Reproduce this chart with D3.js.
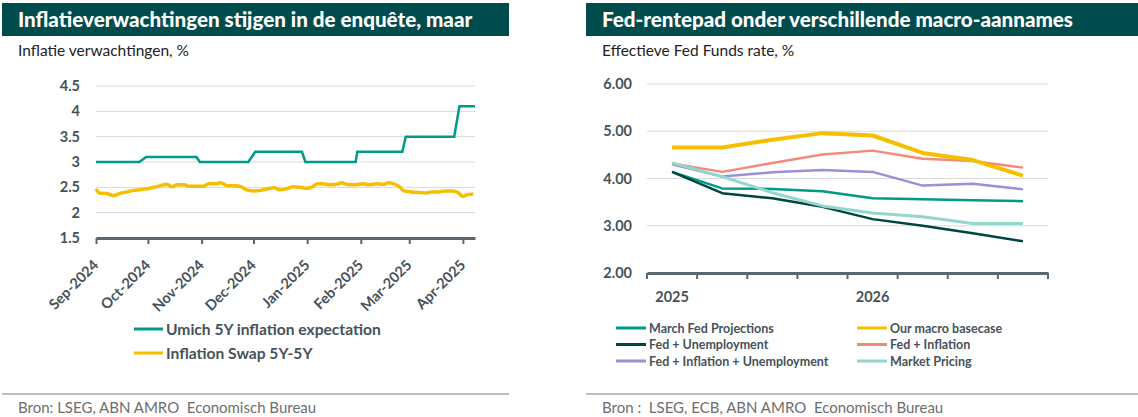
<!DOCTYPE html>
<html>
<head>
<meta charset="utf-8">
<script src="https://cdn.jsdelivr.net/npm/d3@7"></script>
<style>
  body { margin: 0; background: #fff; }
  svg text { font-family: Lato, "Noto Sans", sans-serif; white-space: pre; }
</style>
</head>
<body>
<div id="chart"></div>
<script>
// ---- Left chart data: inflation expectations ----
const umichDates = ["2024-09-01", "2024-09-26", "2024-09-30", "2024-10-29", "2024-10-31", "2024-11-28",
    "2024-12-02", "2024-12-29", "2024-12-31", "2025-01-29", "2025-01-30", "2025-02-25",
    "2025-02-27", "2025-03-27", "2025-03-30", "2025-04-08"];
const umichValues = [3.0, 3.0, 3.1, 3.1, 3.0, 3.0, 3.2, 3.2, 3.0, 3.0, 3.2, 3.2, 3.5, 3.5, 4.1, 4.1];

const swapDates = ["2024-09-01", "2024-09-03", "2024-09-07", "2024-09-11", "2024-09-15", "2024-09-19",
    "2024-09-23", "2024-09-26", "2024-09-30", "2024-10-03", "2024-10-06", "2024-10-10", "2024-10-12",
    "2024-10-15", "2024-10-18", "2024-10-22", "2024-10-25", "2024-10-29", "2024-11-02", "2024-11-05",
    "2024-11-09", "2024-11-12", "2024-11-16", "2024-11-20", "2024-11-24", "2024-11-27", "2024-12-01",
    "2024-12-05", "2024-12-09", "2024-12-13", "2024-12-16", "2024-12-20", "2024-12-24", "2024-12-28",
    "2025-01-01", "2025-01-04", "2025-01-07", "2025-01-10", "2025-01-14", "2025-01-18", "2025-01-21",
    "2025-01-25", "2025-01-29", "2025-02-02", "2025-02-06", "2025-02-10", "2025-02-14", "2025-02-17",
    "2025-02-20", "2025-02-23", "2025-02-26", "2025-03-02", "2025-03-07", "2025-03-11", "2025-03-14",
    "2025-03-18", "2025-03-22", "2025-03-26", "2025-03-29", "2025-04-01", "2025-04-03", "2025-04-07"];
const swapValues = [2.47, 2.39, 2.38, 2.34, 2.38, 2.41, 2.44, 2.45, 2.47, 2.49, 2.51, 2.55, 2.56,
    2.51, 2.55, 2.55, 2.52, 2.52, 2.52, 2.57, 2.57, 2.59, 2.53, 2.53, 2.51, 2.45, 2.43,
    2.44, 2.47, 2.49, 2.45, 2.47, 2.51, 2.50, 2.48, 2.51, 2.57, 2.57, 2.55, 2.56, 2.59,
    2.55, 2.55, 2.57, 2.55, 2.57, 2.56, 2.59, 2.57, 2.52, 2.43, 2.41, 2.40, 2.39, 2.41,
    2.41, 2.43, 2.43, 2.40, 2.32, 2.35, 2.37];

const leftTicksY = [1.5, 2, 2.5, 3, 3.5, 4, 4.5];

// ---- Right chart data: Fed rate paths ----
const quarters = ["2025Q1", "2025Q2", "2025Q3", "2025Q4", "2026Q1", "2026Q2", "2026Q3", "2026Q4"];
const yearLabels = { "2025Q1": "2025", "2026Q1": "2026" };
const marchFed = [4.14, 3.79, 3.78, 3.73, 3.58, 3.56, 3.54, 3.52];
const fedUnemployment = [4.14, 3.69, 3.58, 3.40, 3.14, 3.00, 2.84, 2.67];
const fedInflUnemp = [4.30, 4.04, 4.13, 4.18, 4.14, 3.85, 3.89, 3.77];
const basecase = [4.655, 4.655, 4.82, 4.96, 4.91, 4.54, 4.39, 4.06];
const fedInflation = [4.32, 4.14, 4.33, 4.51, 4.59, 4.42, 4.37, 4.23];
const marketPricing = [4.33, 4.04, 3.70, 3.42, 3.27, 3.19, 3.05, 3.05];
const rightTicksY = [2, 3, 4, 5, 6];

const width = 1138, height = 417;
const headerColor = "#004c4c";
const axisColor = "#5b6770";
const labelColor = "#46525a";

const svg = d3.select("#chart").append("svg")
    .attr("width", width)
    .attr("height", height);

// panel frame: header bar, subtitle, footer
function panel(x0, x1, title, subtitle, source) {
    svg.append("rect")
        .attr("x", x0).attr("y", 3)
        .attr("width", x1 - x0).attr("height", 33)
        .attr("fill", headerColor);
    svg.append("text")
        .attr("x", x0 + 16).attr("y", 27)
        .attr("fill", "#fff")
        .attr("font-size", 20.6)
        .attr("font-weight", 900)
        .text(title);
    svg.append("text")
        .attr("x", x0 + 16).attr("y", 56)
        .attr("fill", "#222")
        .attr("font-size", 15.5)
        .text(subtitle);
    svg.append("line")
        .attr("x1", x0).attr("x2", x1)
        .attr("y1", 394).attr("y2", 394)
        .attr("stroke", "#bdbdbd")
        .attr("stroke-width", 2);
    svg.append("text")
        .attr("x", x0 + 16).attr("y", 413)
        .attr("fill", "#6e6e6e")
        .attr("font-size", 15)
        .text(source);
}

panel(2, 509, "Inflatieverwachtingen stijgen in de enquête, maar", "Inflatie verwachtingen, %",
    "Bron: LSEG, ABN AMRO  Economisch Bureau");
panel(586, 1138, "Fed-rentepad onder verschillende macro-aannames", "Effectieve Fed Funds rate, %",
    "Bron :  LSEG, ECB, ABN AMRO  Economisch Bureau");

// ================= Left chart =================
const parse = d3.timeParse("%Y-%m-%d");
const umich = umichDates.map((d, i) => ({ date: parse(d), value: umichValues[i] }));
const swap = swapDates.map((d, i) => ({ date: parse(d), value: swapValues[i] }));

const xLeft = d3.scaleTime()
    .domain([parse("2024-09-01"), parse("2025-04-08")])
    .range([96, 475]);
const yLeft = d3.scaleLinear()
    .domain([1.5, 4.5])
    .range([238, 86]);

// gridlines
svg.append("g")
    .selectAll("line")
    .data(leftTicksY.slice(1))
    .enter().append("line")
    .attr("x1", 96).attr("x2", 475)
    .attr("y1", d => yLeft(d)).attr("y2", d => yLeft(d))
    .attr("stroke", "#d9d9d9");

// y labels
svg.append("g")
    .selectAll("text")
    .data(leftTicksY)
    .enter().append("text")
    .attr("x", 80)
    .attr("y", d => yLeft(d) + 5)
    .attr("text-anchor", "end")
    .attr("font-size", 14.5)
    .attr("font-weight", 700)
    .attr("fill", labelColor)
    .text(d => d3.format("")(d));

// x axis
const xAxisLeft = svg.append("g")
    .attr("transform", "translate(0,238)")
    .call(d3.axisBottom(xLeft)
        .ticks(d3.timeMonth.every(1))
        .tickFormat(d3.timeFormat("%b-%Y"))
        .tickSize(6)
        .tickSizeOuter(0));
xAxisLeft.select(".domain").attr("stroke", axisColor).attr("stroke-width", 3);
xAxisLeft.selectAll(".tick line").attr("stroke", axisColor).attr("stroke-width", 2);
xAxisLeft.selectAll(".tick text")
    .attr("font-family", "Lato, sans-serif")
    .attr("font-size", 14.5)
    .attr("font-weight", 700)
    .attr("fill", labelColor)
    .attr("text-anchor", "end")
    .attr("y", 0).attr("dy", 0)
    .attr("transform", "translate(3,28) rotate(-45)");

const lineLeft = d3.line()
    .x(d => xLeft(d.date))
    .y(d => yLeft(d.value));

svg.append("path")
    .datum(swap)
    .attr("d", lineLeft.curve(d3.curveMonotoneX))
    .attr("fill", "none")
    .attr("stroke", "#f5bf00")
    .attr("stroke-width", 3.5)
    .attr("stroke-linejoin", "round");

svg.append("path")
    .datum(umich)
    .attr("d", lineLeft.curve(d3.curveLinear))
    .attr("fill", "none")
    .attr("stroke", "#009a88")
    .attr("stroke-width", 2.5);

// left legend
const leftLegend = [
    { name: "Umich 5Y inflation expectation", color: "#009a88" },
    { name: "Inflation Swap 5Y-5Y", color: "#f5bf00" }
];
const legL = svg.append("g")
    .selectAll("g")
    .data(leftLegend)
    .enter().append("g")
    .attr("transform", (d, i) => `translate(134, ${329 + i * 24})`);
legL.append("line")
    .attr("x1", 0).attr("x2", 29)
    .attr("stroke", d => d.color)
    .attr("stroke-width", 3);
legL.append("text")
    .attr("x", 32).attr("y", 5.5)
    .attr("font-size", 15.6)
    .attr("font-weight", 700)
    .attr("fill", labelColor)
    .text(d => d.name);

// ================= Right chart =================
const xRight = d3.scaleBand()
    .domain(quarters)
    .range([647, 1048]);
const yRight = d3.scaleLinear()
    .domain([2, 6])
    .range([273, 84]);

svg.append("g")
    .selectAll("line")
    .data(rightTicksY.slice(1))
    .enter().append("line")
    .attr("x1", 647).attr("x2", 1048)
    .attr("y1", d => yRight(d)).attr("y2", d => yRight(d))
    .attr("stroke", "#d9d9d9");

svg.append("g")
    .selectAll("text")
    .data(rightTicksY)
    .enter().append("text")
    .attr("x", 632)
    .attr("y", d => yRight(d) + 5)
    .attr("text-anchor", "end")
    .attr("font-size", 14.5)
    .attr("font-weight", 700)
    .attr("fill", labelColor)
    .text(d => d3.format(".2f")(d));

// axis line with ticks at the band boundaries
const xAxisRight = svg.append("g")
    .attr("transform", "translate(0,273)")
    .call(d3.axisBottom(xRight)
        .tickFormat(d => yearLabels[d] || "")
        .tickSize(0)
        .tickPadding(19)
        .tickSizeOuter(0));
xAxisRight.select(".domain").attr("stroke", axisColor).attr("stroke-width", 3);
xAxisRight.selectAll(".tick text")
    .attr("font-family", "Lato, sans-serif")
    .attr("font-size", 14.5)
    .attr("font-weight", 700)
    .attr("fill", labelColor);
xAxisRight.selectAll(".boundary")
    .data(quarters.map(q => xRight(q)).concat([xRight.range()[1]]))
    .enter().append("line")
    .attr("class", "boundary")
    .attr("x1", d => d).attr("x2", d => d)
    .attr("y1", 0).attr("y2", 6)
    .attr("stroke", axisColor)
    .attr("stroke-width", 2);

const rightSeries = [
    { name: "March Fed Projections", values: marchFed, color: "#009a88", w: 2.5 },
    { name: "Our macro basecase", values: basecase, color: "#f5bf00", w: 4 },
    { name: "Fed + Unemployment", values: fedUnemployment, color: "#00453f", w: 2.5 },
    { name: "Fed + Inflation", values: fedInflation, color: "#f4897a", w: 2.5 },
    { name: "Fed + Inflation + Unemployment", values: fedInflUnemp, color: "#9b8fd6", w: 2.5 },
    { name: "Market Pricing", values: marketPricing, color: "#92d6cc", w: 3 }
];

const lineRight = d3.line()
    .x((d, i) => xRight(quarters[i]) + xRight.bandwidth() / 2)
    .y(d => yRight(d));

const drawOrder = [4, 3, 0, 2, 5, 1];
svg.append("g")
    .selectAll("path")
    .data(drawOrder.map(i => rightSeries[i]))
    .enter().append("path")
    .attr("d", d => lineRight(d.values))
    .attr("fill", "none")
    .attr("stroke", d => d.color)
    .attr("stroke-width", d => d.w)
    .attr("stroke-linejoin", "round");

// right legend: two columns, three rows
const legR = svg.append("g")
    .selectAll("g")
    .data(rightSeries)
    .enter().append("g")
    .attr("transform", (d, i) => `translate(${i % 2 === 0 ? 616 : 857}, ${328 + Math.floor(i / 2) * 16.5})`);
legR.append("line")
    .attr("x1", 0).attr("x2", 30)
    .attr("stroke", d => d.color)
    .attr("stroke-width", 3);
legR.append("text")
    .attr("x", 33).attr("y", 4.5)
    .attr("font-size", 12.5)
    .attr("font-weight", 700)
    .attr("fill", labelColor)
    .text(d => d.name);
</script>
</body>
</html>
